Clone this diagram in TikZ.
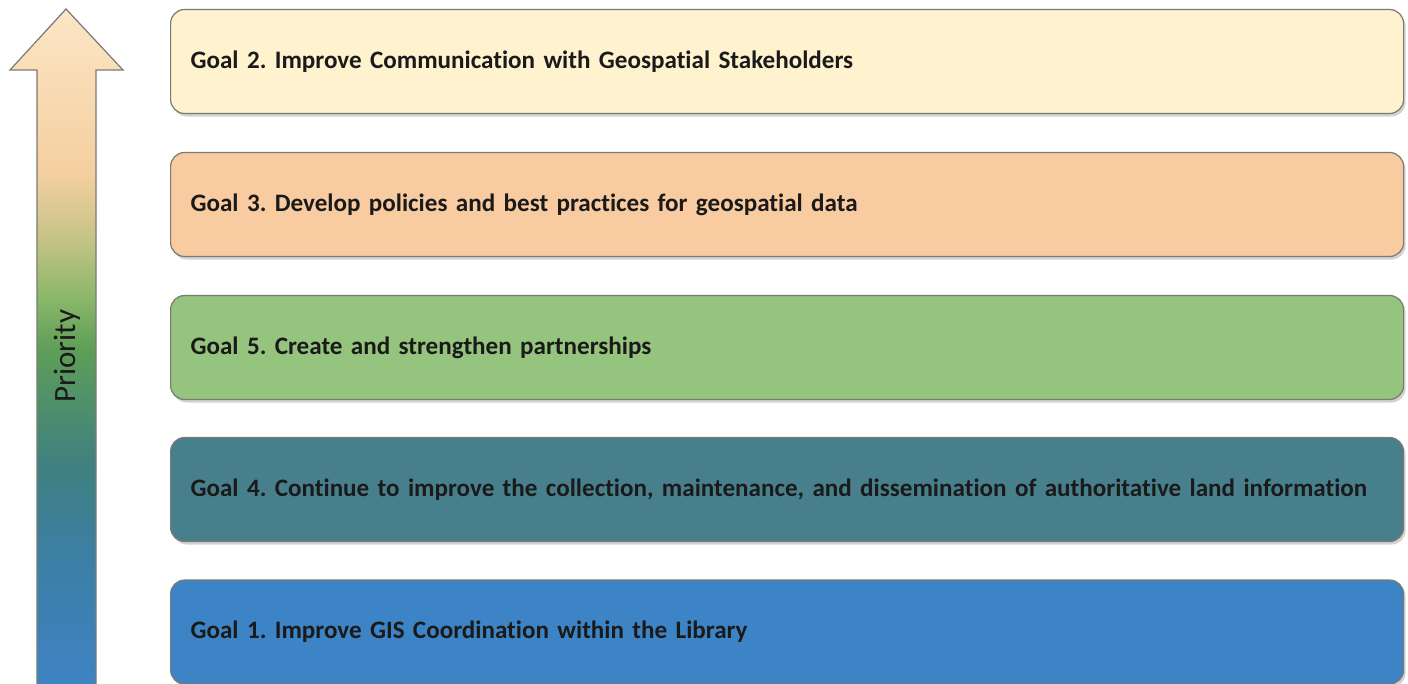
\documentclass[tikz,border=0pt]{standalone}
\usepackage{fontspec}
\setmainfont[Ligatures=NoCommon]{Carlito}
\frenchspacing
\usetikzlibrary{shadows}
\definecolor{goaltwofill}{HTML}{FFF2CE}
\definecolor{goalthreefill}{HTML}{F8CBA0}
\definecolor{goalfivefill}{HTML}{94C47D}
\definecolor{goalfourfill}{HTML}{47808C}
\definecolor{goalonefill}{HTML}{3D84C6}
\definecolor{boxline}{HTML}{7A7A72}
\definecolor{goaltext}{HTML}{1A1A1A}
% colours of the priority arrow, bottom to top
\definecolor{arrowblue}{HTML}{3E84C4}
\definecolor{arrowsteel}{HTML}{3C7FA8}
\definecolor{arrowteal}{HTML}{3F8080}
\definecolor{arrowgreen}{HTML}{5E9E58}
\definecolor{arrowlime}{HTML}{8DB86A}
\definecolor{arrowolive}{HTML}{C4C386}
\definecolor{arrowtan}{HTML}{F5CFA0}
\definecolor{arrowpeach}{HTML}{FCE6C6}
\pgfdeclareverticalshading{priorityshade}{100bp}{color(0bp)=(arrowblue); color(25bp)=(arrowblue); color(34bp)=(arrowsteel); color(41.5bp)=(arrowteal); color(50bp)=(arrowgreen); color(54bp)=(arrowlime); color(58bp)=(arrowolive); color(63bp)=(arrowtan); color(75bp)=(arrowpeach); color(100bp)=(arrowpeach)}
\tikzset{
  goalbox/.style={draw=boxline, line width=1.2pt, rounded corners=14pt,
    minimum height=104pt, text width=1193pt, inner xsep=20pt, align=left,
    anchor=west, text=goaltext, font=\fontsize{25.1}{30}\selectfont\bfseries,
    drop shadow={opacity=0.35, shadow xshift=2pt, shadow yshift=-3pt}},
  arrowline/.style={draw=boxline, line width=1.2pt, line join=miter}
}
\begin{document}
\begin{tikzpicture}[x=1pt, y=-1pt]
		\useasboundingbox (0,0) rectangle (1408,683);
		% priority arrow
		\shade[shading=priorityshade] (37,690) -- (37,70) -- (10,70) -- (66,9) -- (123,70) -- (96,70) -- (96,690) -- cycle;
		\draw[arrowline] (37,690) -- (37,70) -- (10,70) -- (66,9) -- (123,70) -- (96,70) -- (96,690);
		\node[rotate=90, text=goaltext, font=\fontsize{31}{36}\selectfont] (priority) at (67,356) {Priority};
		% goals
		\foreach \name/\ypos/\col/\goaltxt in {
			goaltwo/61.5/goaltwofill/{Goal 2. Improve Communication with Geospatial Stakeholders},
			goalthree/204.5/goalthreefill/{Goal 3. Develop policies and best practices for geospatial data},
			goalfive/347.5/goalfivefill/{Goal 5. Create and strengthen partnerships},
			goalfour/489.5/goalfourfill/{Goal 4. Continue to improve the collection, maintenance, and dissemination of authoritative land information},
			goalone/632/goalonefill/{Goal 1. Improve GIS Coordination within the Library}}
		\node[goalbox, fill=\col] (\name) at (170,\ypos) {\mbox{\goaltxt}};
		\end{tikzpicture}
\end{document}
